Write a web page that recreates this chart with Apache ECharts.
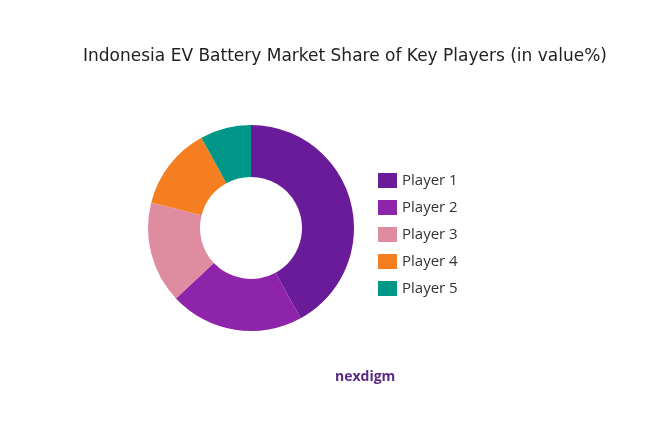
<!DOCTYPE html>
<html><head><meta charset="utf-8">
<script src="https://cdn.jsdelivr.net/npm/echarts@6/dist/echarts.min.js"></script>
<style>body{margin:0}#c{width:657px;height:447px}</style></head>
<body><div id="c"></div>
<script>
const categories=['Player 1','Player 2','Player 3','Player 4','Player 5'];
const values=[42,21,16,13,8];
const colors=['#6a1b9a','#8e24aa','#e08ca0','#f57f20','#009688'];
const chart=echarts.init(document.getElementById('c'));
chart.setOption({
  title:[{text:'Indonesia EV Battery Market Share of Key Players (in value%)',left:340,top:43,textAlign:'center',
    textStyle:{fontFamily:'DejaVu Sans',fontSize:17,fontWeight:'normal',color:'#222'}},
    {text:'nexdigm',left:330,top:365,textStyle:{fontFamily:'Open Sans',fontSize:14,fontWeight:'bold',color:'#5b2a86'}}],
  legend:{orient:'vertical',left:373,top:168,itemWidth:19,itemHeight:15,itemGap:12,icon:'rect',
    textStyle:{fontFamily:'Open Sans',fontSize:15,color:'#333'},data:categories},
  series:[{type:'pie',radius:[51,103],center:[251,228],startAngle:90,label:{show:false},labelLine:{show:false},
    silent:true,
    data:categories.map((n,i)=>({name:n,value:values[i],itemStyle:{color:colors[i]}}))}]
});
</script></body></html>
